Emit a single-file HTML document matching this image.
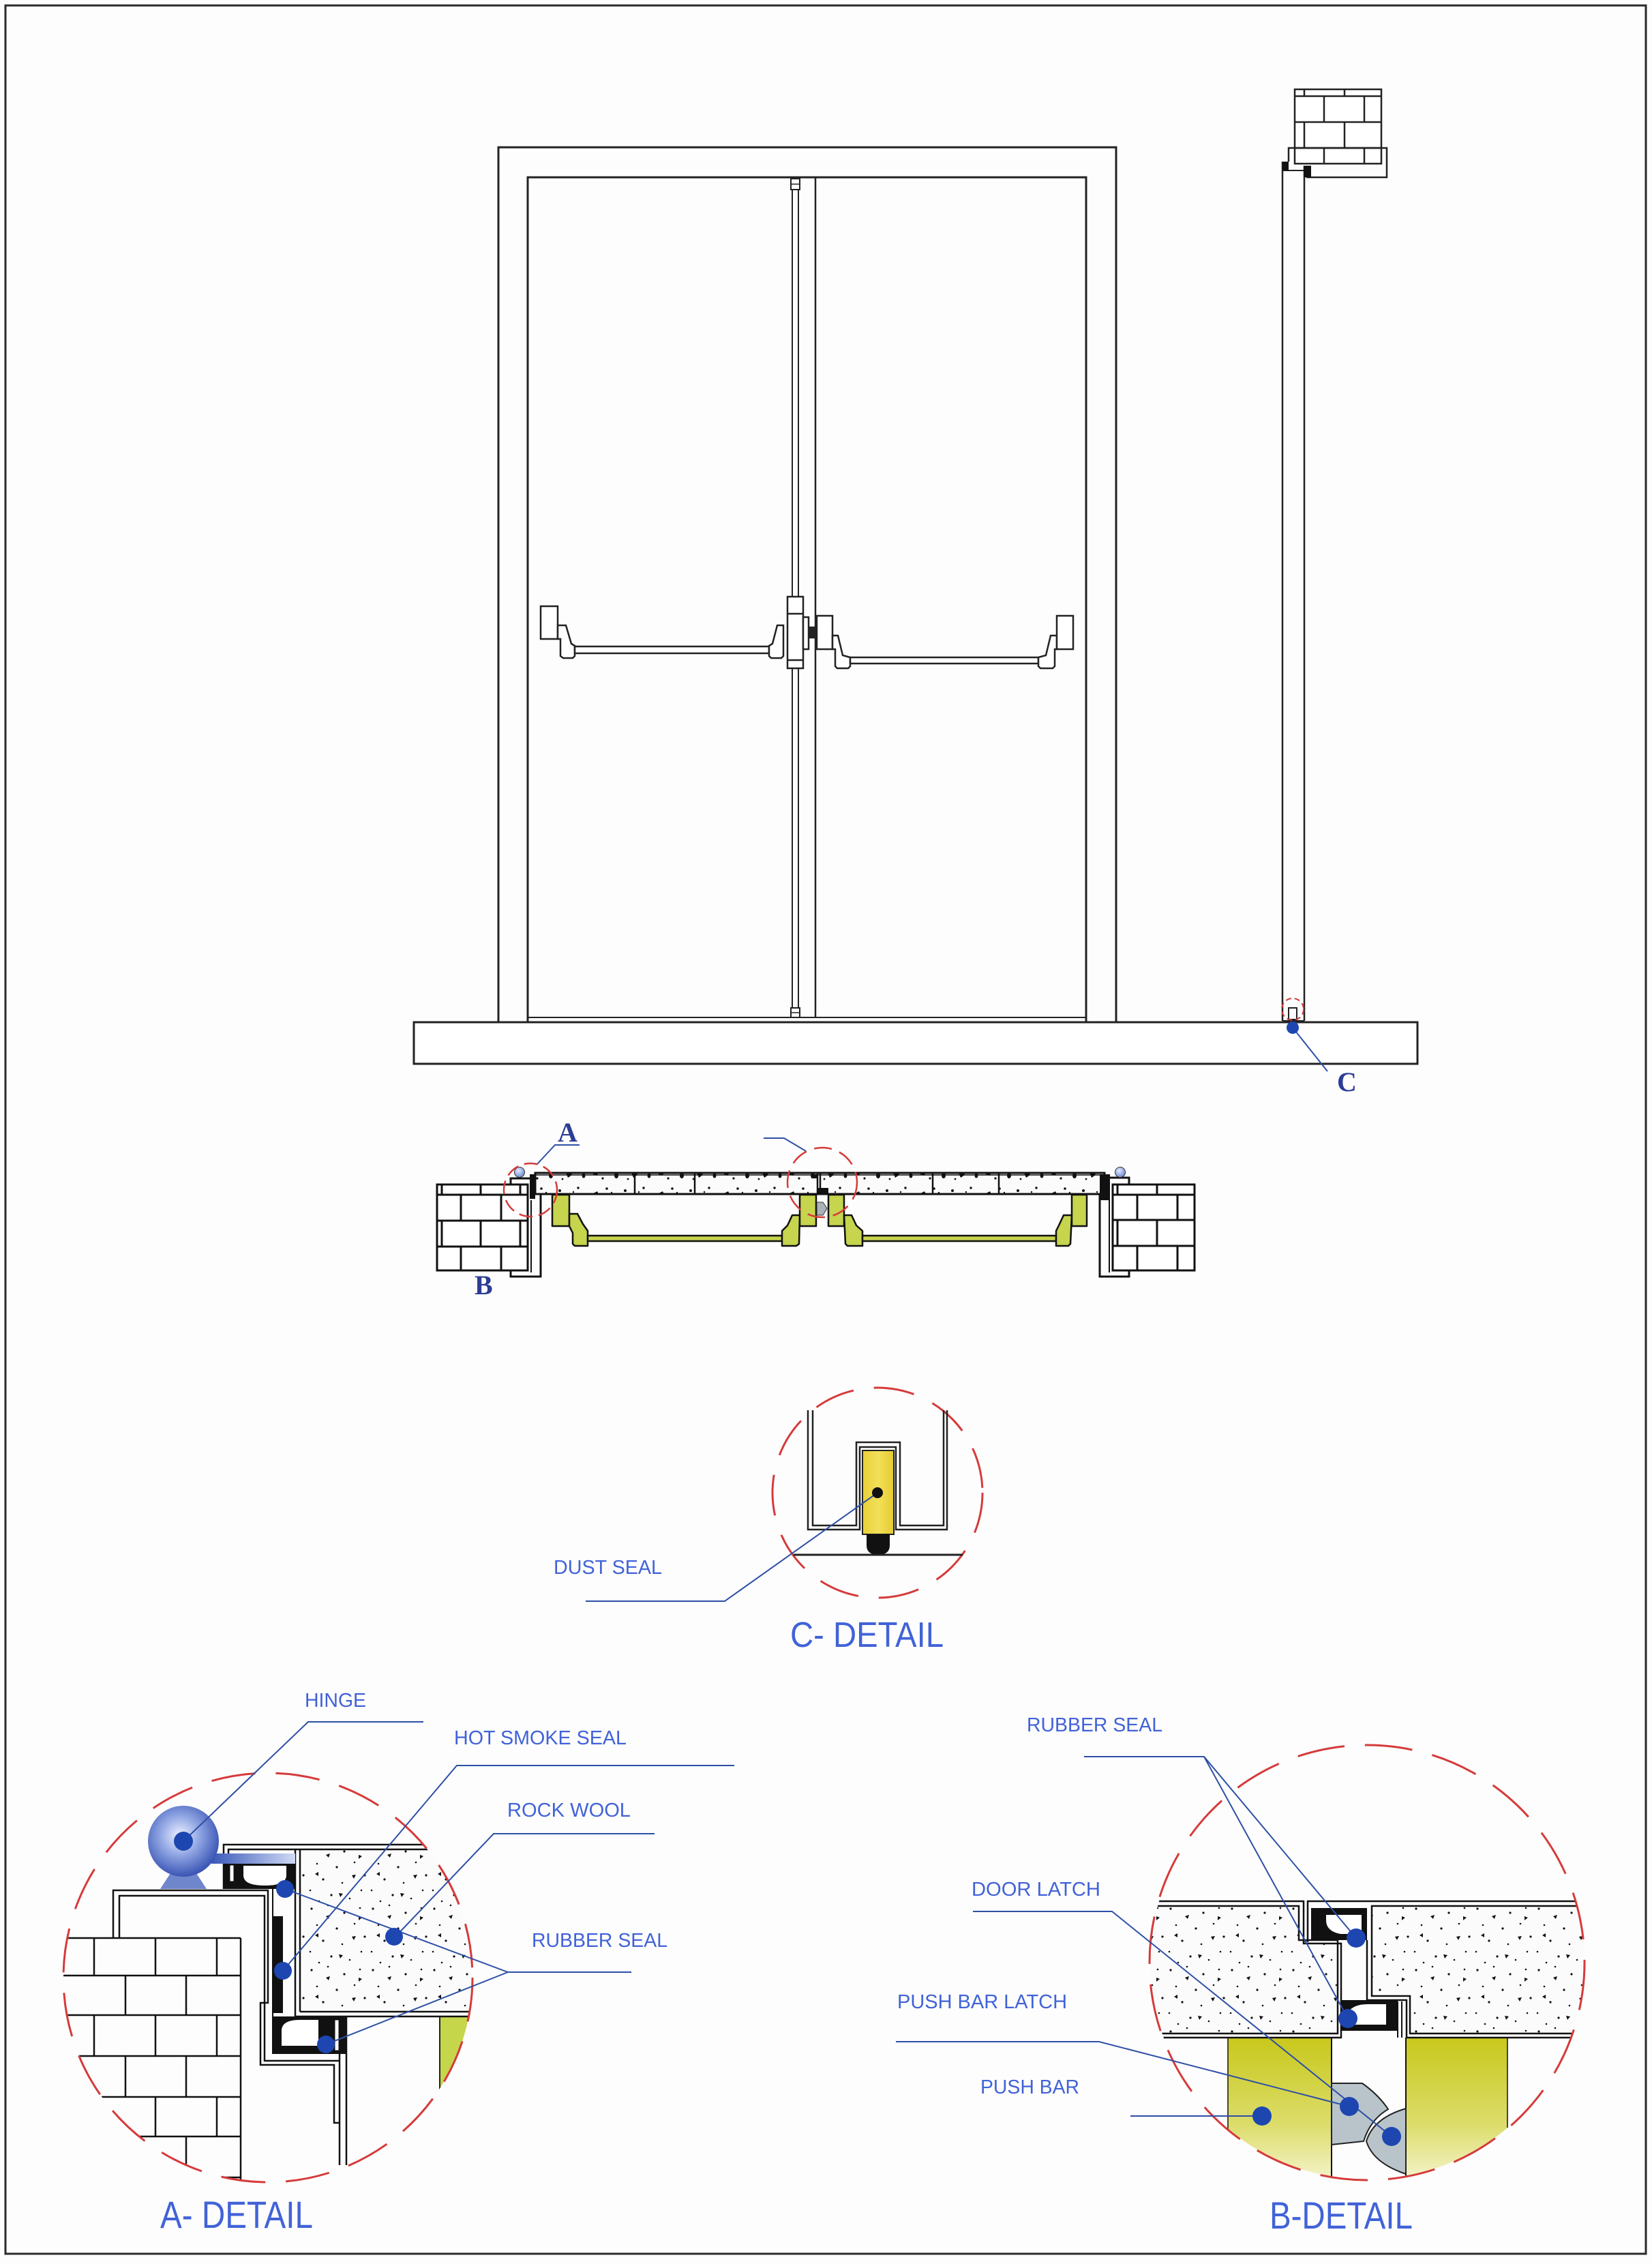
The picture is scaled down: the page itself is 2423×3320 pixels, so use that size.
<!DOCTYPE html>
<html>
<head>
<meta charset="utf-8">
<style>
html,body{margin:0;padding:0;background:#fdfdfd;}
svg{display:block;}
.lbl{font-family:"Liberation Sans",Arial,sans-serif;fill:#4162d8;}
.ser{font-family:"Liberation Serif","Times New Roman",serif;fill:#2c3d94;font-weight:bold;}
</style>
</head>
<body>
<svg xmlns="http://www.w3.org/2000/svg" width="2423" height="3320" viewBox="0 0 2423 3320">
<defs>
  <pattern id="rw" width="90" height="90" patternUnits="userSpaceOnUse">
    <rect width="90" height="90" fill="#fbfbfb"/>
    <g fill="#111">
      <circle cx="7" cy="9" r="1.6"/><circle cx="31" cy="4" r="1.3"/><circle cx="55" cy="15" r="1.6"/>
      <circle cx="78" cy="8" r="1.3"/><circle cx="15" cy="33" r="1.3"/><circle cx="44" cy="38" r="1.6"/>
      <circle cx="70" cy="31" r="1.3"/><circle cx="85" cy="50" r="1.6"/><circle cx="24" cy="56" r="1.6"/>
      <circle cx="52" cy="61" r="1.3"/><circle cx="5" cy="72" r="1.3"/><circle cx="36" cy="79" r="1.6"/>
      <circle cx="63" cy="84" r="1.3"/><circle cx="80" cy="72" r="1.3"/><circle cx="18" cy="88" r="1.3"/>
      <path d="M28,20 l6,-2 l-2,6 z"/><path d="M66,50 l6,-1 l-3,6 z"/><path d="M12,48 l5,-3 l0,6 z"/>
      <path d="M47,76 l6,1 l-4,5 z"/><path d="M76,20 l5,2 l-5,4 z"/>
    </g>
  </pattern>
  <pattern id="rw2" width="96" height="34" patternUnits="userSpaceOnUse">
    <rect width="96" height="34" fill="#fbfbfb"/>
    <g fill="#111">
      <path d="M6,16 l6,-3 l3,6 l-4,5 l-5,-2 z"/><circle cx="26" cy="9" r="1.8"/><ellipse cx="40" cy="24" rx="3" ry="4"/>
      <circle cx="53" cy="12" r="2"/><path d="M62,20 l7,-2 l2,5 l-6,4 z"/><circle cx="80" cy="8" r="1.7"/>
      <ellipse cx="88" cy="24" rx="2.5" ry="3.5"/><circle cx="20" cy="28" r="1.6"/><circle cx="57" cy="29" r="1.4"/>
      <circle cx="33" cy="15" r="1.2"/><circle cx="73" cy="14" r="1.2"/>
    </g>
  </pattern>
  <radialGradient id="hg" cx="45%" cy="42%" r="60%">
    <stop offset="0" stop-color="#eef2ff"/><stop offset="0.45" stop-color="#93a8e4"/><stop offset="1" stop-color="#3550b2"/>
  </radialGradient>
  <radialGradient id="hs" cx="40%" cy="35%" r="65%">
    <stop offset="0" stop-color="#e4ecff"/><stop offset="1" stop-color="#6f8bd2"/>
  </radialGradient>
  <linearGradient id="arm" x1="0" x2="1" y1="0" y2="0">
    <stop offset="0" stop-color="#3a58b8"/><stop offset="1" stop-color="#cfdaf6"/>
  </linearGradient>
  <linearGradient id="yb" x1="0" x2="0" y1="0" y2="1">
    <stop offset="0" stop-color="#c8c81c"/><stop offset="0.55" stop-color="#dcdc6a"/><stop offset="1" stop-color="#fafae4"/>
  </linearGradient>
  <linearGradient id="yc" x1="0" x2="1" y1="0" y2="0">
    <stop offset="0" stop-color="#e8cf36"/><stop offset="0.5" stop-color="#f3e05a"/><stop offset="1" stop-color="#e5cb30"/>
  </linearGradient>
  <clipPath id="cA"><circle cx="393" cy="2900" r="300"/></clipPath>
  <clipPath id="cB"><circle cx="2005" cy="2878" r="318"/></clipPath>
</defs>

<rect width="2423" height="3320" fill="#fdfdfd"/>
<rect x="8" y="8" width="2406" height="3297" fill="none" stroke="#2a2a2a" stroke-width="3"/>

<!-- ===================== ELEVATION ===================== -->
<g fill="none" stroke="#222" stroke-width="3">
  <polyline points="731,1499 731,216 1637,216 1637,1499"/>
  <polyline points="774,1499 774,260 1593,260 1593,1499"/>
  <line x1="774" y1="1492" x2="1593" y2="1492" stroke-width="2"/>
  <line x1="1162" y1="260" x2="1162" y2="875" stroke-width="2"/>
  <line x1="1171" y1="260" x2="1171" y2="875" stroke-width="2"/>
  <line x1="1162" y1="980" x2="1162" y2="1492" stroke-width="2"/>
  <line x1="1171" y1="980" x2="1171" y2="1492" stroke-width="2"/>
  <line x1="1196" y1="260" x2="1196" y2="1492" stroke-width="2.5"/>
  <rect x="1160" y="262" width="13" height="16" fill="#fff" stroke-width="2"/>
  <line x1="1160" y1="270" x2="1173" y2="270" stroke-width="1.5"/>
  <rect x="1160" y="1478" width="13" height="14" fill="#fff" stroke-width="2"/>
  <line x1="1160" y1="1485" x2="1173" y2="1485" stroke-width="1.5"/>
  <rect x="607" y="1499" width="1472" height="61" fill="#fff"/>
</g>
<g fill="#fff" stroke="#222" stroke-width="2.5">
  <rect x="793" y="889" width="25" height="48"/>
  <path d="M818,917 H830 L838,944 L843,947 L843,962 L840,965 L826,965 L822,962 L822,937 L818,937 Z"/>
  <rect x="843" y="948" width="285" height="10"/>
  <path d="M1149,917 H1140 L1133,944 L1128,947 L1128,962 L1131,965 L1146,965 L1149,962 Z"/>
  <rect x="1155" y="875" width="23" height="105"/>
  <line x1="1155" y1="900" x2="1178" y2="900"/>
  <line x1="1155" y1="968" x2="1178" y2="968"/>
  <rect x="1178" y="905" width="8" height="47"/>
  <rect x="1187" y="920" width="7" height="15" fill="#222"/>
  <rect x="1198" y="903" width="23" height="49"/>
  <path d="M1221,932 H1229 L1236,961 L1247,964 V977 L1244,980 H1228 L1225,977 V952 H1221 Z"/>
  <rect x="1247" y="964" width="276" height="9"/>
  <path d="M1550,932 H1541 L1534,961 L1523,964 V977 L1526,980 H1544 L1547,977 V952 H1550 Z"/>
  <rect x="1550" y="903" width="24" height="49"/>
</g>

<!-- ===================== SIDE SECTION ===================== -->
<g fill="none" stroke="#222" stroke-width="2.5">
  <rect x="1899" y="131" width="127" height="109" fill="#fff"/>
  <line x1="1899" y1="141" x2="2026" y2="141"/>
  <line x1="1899" y1="179" x2="2026" y2="179"/>
  <line x1="1899" y1="217" x2="2026" y2="217"/>
  <line x1="1913" y1="131" x2="1913" y2="141"/><line x1="1972" y1="131" x2="1972" y2="141"/>
  <line x1="1942" y1="141" x2="1942" y2="179"/><line x1="2001" y1="141" x2="2001" y2="179"/>
  <line x1="1913" y1="179" x2="1913" y2="217"/><line x1="1972" y1="179" x2="1972" y2="217"/>
  <line x1="1942" y1="217" x2="1942" y2="240"/><line x1="2001" y1="217" x2="2001" y2="240"/>
  <polyline points="1890,237 1890,217 2034,217 2034,260 1916,260"/>
  <line x1="1881" y1="237" x2="1881" y2="1497"/>
  <line x1="1913" y1="243" x2="1913" y2="1497"/>
  <line x1="1881" y1="250" x2="1913" y2="250" stroke-width="2"/>
  <line x1="1881" y1="1497" x2="1913" y2="1497" stroke-width="2"/>
  <rect x="1890" y="1478" width="12" height="17" stroke-width="2"/>
</g>
<rect x="1881" y="237" width="9" height="13" fill="#111"/>
<rect x="1912" y="243" width="11" height="17" fill="#111"/>
<circle cx="1896" cy="1480" r="16" fill="none" stroke="#d63a3a" stroke-width="2" stroke-dasharray="8 5"/>
<line x1="1896" y1="1507" x2="1947" y2="1571" stroke="#2e4fa6" stroke-width="2"/>
<circle cx="1896" cy="1507" r="9" fill="#1d46b0"/>
<text x="1961" y="1600" class="ser" font-size="40">C</text>

<!-- ===================== PLAN SECTION ===================== -->
<g stroke="#111" stroke-width="3" fill="none">
  <rect x="641" y="1737" width="133" height="126" fill="#fff"/>
  <line x1="641" y1="1752" x2="774" y2="1752"/><line x1="641" y1="1790" x2="774" y2="1790"/><line x1="641" y1="1828" x2="774" y2="1828"/>
  <line x1="648" y1="1737" x2="648" y2="1752"/><line x1="705" y1="1737" x2="705" y2="1752"/><line x1="763" y1="1737" x2="763" y2="1752"/>
  <line x1="676" y1="1752" x2="676" y2="1790"/><line x1="735" y1="1752" x2="735" y2="1790"/>
  <line x1="648" y1="1790" x2="648" y2="1828"/><line x1="705" y1="1790" x2="705" y2="1828"/><line x1="763" y1="1790" x2="763" y2="1828"/>
  <line x1="676" y1="1828" x2="676" y2="1863"/><line x1="735" y1="1828" x2="735" y2="1863"/>
  <polyline points="749,1737 749,1728 786,1728"/>
  <polyline points="793,1752 793,1872 749,1872 749,1863"/>
  <line x1="779" y1="1760" x2="779" y2="1866" stroke-width="2"/>
  <rect x="1632" y="1737" width="120" height="126" fill="#fff"/>
  <line x1="1632" y1="1752" x2="1752" y2="1752"/><line x1="1632" y1="1789" x2="1752" y2="1789"/><line x1="1632" y1="1827" x2="1752" y2="1827"/>
  <line x1="1639" y1="1737" x2="1639" y2="1752"/><line x1="1697" y1="1737" x2="1697" y2="1752"/>
  <line x1="1668" y1="1752" x2="1668" y2="1789"/><line x1="1727" y1="1752" x2="1727" y2="1789"/>
  <line x1="1639" y1="1789" x2="1639" y2="1827"/><line x1="1697" y1="1789" x2="1697" y2="1827"/>
  <line x1="1668" y1="1827" x2="1668" y2="1863"/><line x1="1727" y1="1827" x2="1727" y2="1863"/>
  <polyline points="1628,1727 1656,1727 1656,1737"/>
  <polyline points="1613,1752 1613,1872 1656,1872 1656,1863"/>
  <line x1="1627" y1="1760" x2="1627" y2="1866" stroke-width="2"/>
</g>
<rect x="785" y="1720" width="835" height="31" fill="url(#rw2)" stroke="#111" stroke-width="3"/>
<line x1="785" y1="1723" x2="1620" y2="1723" stroke="#111" stroke-width="1.5"/>
<g stroke="#111" stroke-width="2.5">
  <line x1="931" y1="1720" x2="931" y2="1751"/><line x1="1019" y1="1720" x2="1019" y2="1751"/>
  <line x1="1199" y1="1720" x2="1199" y2="1751"/><line x1="1203" y1="1720" x2="1203" y2="1751"/>
  <line x1="1368" y1="1720" x2="1368" y2="1751"/><line x1="1465" y1="1720" x2="1465" y2="1751"/>
</g>
<rect x="1190" y="1722" width="10" height="6" fill="#111"/>
<rect x="1200" y="1742" width="15" height="8" fill="#111"/>
<rect x="777" y="1722" width="8" height="36" fill="#111"/>
<rect x="1613" y="1722" width="15" height="38" fill="#111"/>
<circle cx="762" cy="1719" r="7.5" fill="url(#hs)" stroke="#333" stroke-width="1"/>
<circle cx="1643" cy="1719" r="7.5" fill="url(#hs)" stroke="#333" stroke-width="1"/>
<g fill="#c6d44e" stroke="#111" stroke-width="2.5" stroke-linejoin="round">
  <rect x="810" y="1752" width="25" height="46"/>
  <path d="M835,1780 H847 L855,1795 L862,1805 V1827 H843 L840,1824 V1808 L835,1798 Z"/>
  <rect x="862" y="1812" width="285" height="8"/>
  <path d="M1173,1782 H1162 L1155,1797 L1147,1805 V1827 H1168 L1172,1824 Z"/>
  <rect x="1173" y="1752" width="24" height="46"/>
  <rect x="1215" y="1752" width="23" height="46"/>
  <path d="M1238,1782 H1249 L1256,1797 L1265,1805 V1827 H1243 L1240,1824 Z"/>
  <rect x="1265" y="1812" width="284" height="8"/>
  <path d="M1572,1782 H1560 L1553,1797 L1549,1805 V1827 H1567 L1570,1824 Z"/>
  <rect x="1572" y="1752" width="22" height="46"/>
</g>
<path d="M1198,1763 H1207 L1213,1772 L1207,1782 H1198 Z" fill="#a9b3b8" stroke="#333" stroke-width="1"/>
<circle cx="778" cy="1745" r="39" fill="none" stroke="#d63a3a" stroke-width="2.5" stroke-dasharray="20 9"/>
<circle cx="1206" cy="1734" r="51" fill="none" stroke="#d63a3a" stroke-width="2.5" stroke-dasharray="26 12"/>
<g stroke="#2e4fa6" stroke-width="2" fill="none">
  <polyline points="788,1707 814,1679 850,1679"/>
  <polyline points="1120,1669 1150,1669 1182,1688"/>
</g>
<text x="818" y="1674" class="ser" font-size="40">A</text>
<text x="696" y="1898" class="ser" font-size="40">B</text>

<!-- ===================== C DETAIL ===================== -->
<circle cx="1287" cy="2189" r="154" fill="none" stroke="#d63a3a" stroke-width="3" stroke-dasharray="60 30"/>
<rect x="1265" y="2127" width="46" height="123" fill="url(#yc)" stroke="#222" stroke-width="2"/>
<path d="M1271,2250 V2266 Q1271,2280 1288,2280 Q1305,2280 1305,2266 V2250 Z" fill="#111"/>
<g fill="none" stroke="#222" stroke-width="2.5">
  <polyline points="1185,2068 1185,2243 1261,2243 1261,2122 1314,2122 1314,2243 1389,2243 1389,2068"/>
  <polyline points="1192,2068 1192,2237 1256,2237 1256,2115 1320,2115 1320,2237 1384,2237 1384,2068"/>
  <line x1="1164" y1="2280" x2="1412" y2="2280" stroke-width="3"/>
</g>
<polyline points="1287,2189 1063,2348 859,2348" fill="none" stroke="#2e4fa6" stroke-width="2"/>
<circle cx="1287" cy="2189" r="8" fill="#111"/>
<text x="812" y="2308" class="lbl" font-size="29" textLength="159" lengthAdjust="spacingAndGlyphs">DUST SEAL</text>
<text x="1159" y="2415" class="lbl" font-size="52" textLength="225" lengthAdjust="spacingAndGlyphs">C- DETAIL</text>

<!-- ===================== A DETAIL ===================== -->
<g clip-path="url(#cA)">
  <rect x="440" y="2712" width="260" height="238" fill="url(#rw)"/>
  <polygon points="645,2958 700,2958 700,3070 645,3070" fill="#c6d64a"/>
  <line x1="645" y1="2958" x2="645" y2="3070" stroke="#222" stroke-width="2"/>
  <g stroke="#111" stroke-width="2.5" fill="none">
    <line x1="80" y1="2842" x2="353" y2="2842"/><line x1="80" y1="2897" x2="353" y2="2897"/>
    <line x1="80" y1="2955" x2="353" y2="2955"/><line x1="80" y1="3015" x2="353" y2="3015"/>
    <line x1="80" y1="3075" x2="353" y2="3075"/><line x1="80" y1="3133" x2="353" y2="3133"/>
    <line x1="80" y1="3193" x2="353" y2="3193"/>
    <line x1="353" y1="2842" x2="353" y2="3210"/>
    <line x1="138" y1="2842" x2="138" y2="2897"/><line x1="228" y1="2842" x2="228" y2="2897"/><line x1="318" y1="2842" x2="318" y2="2897"/>
    <line x1="184" y1="2897" x2="184" y2="2955"/><line x1="273" y1="2897" x2="273" y2="2955"/>
    <line x1="138" y1="2955" x2="138" y2="3015"/><line x1="228" y1="2955" x2="228" y2="3015"/><line x1="318" y1="2955" x2="318" y2="3015"/>
    <line x1="184" y1="3015" x2="184" y2="3075"/><line x1="273" y1="3015" x2="273" y2="3075"/>
    <line x1="138" y1="3075" x2="138" y2="3133"/><line x1="228" y1="3075" x2="228" y2="3133"/><line x1="318" y1="3075" x2="318" y2="3133"/>
    <line x1="184" y1="3133" x2="184" y2="3193"/><line x1="273" y1="3133" x2="273" y2="3193"/>
    <polyline points="166,2842 166,2772 393,2772 393,2937 382,2937 382,3028 490,3028 490,3113 498,3113"/>
    <polyline points="175,2842 175,2780 388,2780 388,3022 497,3022"/>
    <polyline points="328,2770 328,2705 700,2705"/>
    <polyline points="335,2770 335,2712 700,2712"/>
    <line x1="433" y1="2712" x2="433" y2="2957"/>
    <line x1="440" y1="2712" x2="440" y2="2950"/>
    <line x1="440" y1="2950" x2="700" y2="2950"/>
    <line x1="433" y1="2957" x2="700" y2="2957"/>
    <line x1="498" y1="2957" x2="498" y2="3175"/>
    <line x1="508" y1="2957" x2="508" y2="3175"/>
    <line x1="400" y1="2770" x2="400" y2="3012" stroke-width="2"/>
  </g>
</g>
<path d="M329,2733 H433 V2770 H329 Z" fill="#111"/>
<path d="M357,2736 H420 V2750 Q420,2765 388,2765 Q357,2765 357,2750 Z" fill="#fff"/>
<rect x="337" y="2735" width="6" height="24" fill="#fff" stroke="#111" stroke-width="1"/>
<rect x="400" y="2810" width="15" height="142" fill="#111"/>
<path d="M400,2957 H508 V3012 H400 Z" fill="#111"/>
<path d="M413,3000 V2978 Q413,2962 440,2962 H467 V3000 Z" fill="#fff"/>
<rect x="491" y="2962" width="6" height="45" fill="#fff" stroke="#111" stroke-width="1"/>
<rect x="310" y="2718" width="123" height="15" fill="url(#arm)"/>
<path d="M250,2747 H288 L303,2770 H235 Z" fill="#6f86cc"/>
<circle cx="269" cy="2700" r="52" fill="url(#hg)"/>
<circle cx="393" cy="2900" r="300" fill="none" stroke="#d63a3a" stroke-width="3" stroke-dasharray="65 30"/>
<g stroke="#2e4fa6" stroke-width="2" fill="none">
  <polyline points="621,2525 452,2525 269,2700"/>
  <polyline points="1077,2589 670,2589 415,2890"/>
  <polyline points="960,2689 724,2689 578,2842"/>
  <polyline points="926,2892 745,2892 418,2770"/>
  <line x1="745" y1="2892" x2="478" y2="2998"/>
</g>
<g fill="#1d46b0">
  <circle cx="269" cy="2700" r="14"/>
  <circle cx="418" cy="2770" r="13"/><circle cx="578" cy="2840" r="13"/>
  <circle cx="415" cy="2890" r="13"/><circle cx="478" cy="2998" r="13"/>
</g>
<text x="447" y="2503" class="lbl" font-size="29" textLength="90" lengthAdjust="spacingAndGlyphs">HINGE</text>
<text x="666" y="2558" class="lbl" font-size="29" textLength="253" lengthAdjust="spacingAndGlyphs">HOT SMOKE SEAL</text>
<text x="744" y="2664" class="lbl" font-size="29" textLength="181" lengthAdjust="spacingAndGlyphs">ROCK WOOL</text>
<text x="780" y="2855" class="lbl" font-size="29" textLength="199" lengthAdjust="spacingAndGlyphs">RUBBER SEAL</text>
<text x="235" y="3267" class="lbl" font-size="56" textLength="224" lengthAdjust="spacingAndGlyphs">A- DETAIL</text>

<!-- ===================== B DETAIL ===================== -->
<g clip-path="url(#cB)">
  <path d="M1680,2795 H1905 V2845 H1962 V2982 H1680 Z" fill="url(#rw)"/>
  <path d="M2012,2795 H2330 V2982 H2068 V2927 H2012 Z" fill="url(#rw)"/>
  <rect x="1801" y="2988" width="152" height="230" fill="url(#yb)"/>
  <rect x="2063" y="2988" width="148" height="230" fill="url(#yb)"/>
  <g stroke="#111" stroke-width="2.5" fill="none">
    <polyline points="1680,2788 1912,2788 1912,2850 1967,2850 1967,2988 1680,2988"/>
    <polyline points="1680,2795 1905,2795 1905,2845 1962,2845 1962,2982 1680,2982"/>
    <polyline points="2330,2788 1918,2788 1918,2848"/>
    <polyline points="2330,2795 2012,2795 2012,2927 2068,2927 2068,2982 2330,2982"/>
    <polyline points="2005,2845 2005,2933 2063,2933 2063,2988 2330,2988"/>
    <line x1="1801" y1="2988" x2="1801" y2="3220" stroke-width="1.5"/>
    <line x1="1953" y1="2988" x2="1953" y2="3220" stroke-width="2"/>
    <line x1="2062" y1="2988" x2="2062" y2="3220" stroke-width="2"/>
    <line x1="2211" y1="2988" x2="2211" y2="3220" stroke-width="1.5"/>
    <line x1="2050" y1="2935" x2="2050" y2="2988" stroke-width="2"/>
    <line x1="2056" y1="2935" x2="2056" y2="2988" stroke-width="2"/>
  </g>
</g>
<rect x="1923" y="2798" width="82" height="47" fill="#111"/>
<path d="M1945,2808 H1997 V2836 H1966 Q1945,2832 1945,2816 Z" fill="#fff"/>
<rect x="1967" y="2933" width="83" height="45" fill="#111"/>
<path d="M1977,2969 V2951 Q1985,2939 2006,2939 H2033 V2969 Z" fill="#fff"/>
<path d="M1953,3055 H1998 Q2022,3072 2036,3093 Q2010,3108 2000,3140 L1953,3145 Z" fill="#b8c4ca" stroke="#222" stroke-width="2"/>
<path d="M2062,3092 Q2014,3106 2004,3140 Q2014,3172 2062,3188 Z" fill="#b8c4ca" stroke="#222" stroke-width="2"/>
<circle cx="2005" cy="2878" r="319" fill="none" stroke="#d63a3a" stroke-width="3" stroke-dasharray="70 30"/>
<g stroke="#2e4fa6" stroke-width="2" fill="none">
  <polyline points="1590,2576 1766,2576 1989,2842"/>
  <line x1="1766" y1="2576" x2="1977" y2="2960"/>
  <polyline points="1427,2803 1631,2803 2041,3133"/>
  <polyline points="1314,2994 1612,2994 1979,3089"/>
  <line x1="1658" y1="3103" x2="1851" y2="3103"/>
</g>
<g fill="#1d46b0">
  <circle cx="1989" cy="2842" r="14"/><circle cx="1977" cy="2960" r="14"/>
  <circle cx="1979" cy="3089" r="14"/><circle cx="2041" cy="3133" r="14"/>
  <circle cx="1851" cy="3103" r="14"/>
</g>
<text x="1506" y="2539" class="lbl" font-size="29" textLength="199" lengthAdjust="spacingAndGlyphs">RUBBER SEAL</text>
<text x="1425" y="2780" class="lbl" font-size="29" textLength="189" lengthAdjust="spacingAndGlyphs">DOOR LATCH</text>
<text x="1316" y="2945" class="lbl" font-size="29" textLength="249" lengthAdjust="spacingAndGlyphs">PUSH BAR LATCH</text>
<text x="1438" y="3070" class="lbl" font-size="29" textLength="145" lengthAdjust="spacingAndGlyphs">PUSH BAR</text>
<text x="1862" y="3268" class="lbl" font-size="56" textLength="210" lengthAdjust="spacingAndGlyphs">B-DETAIL</text>
</svg>
</body>
</html>
